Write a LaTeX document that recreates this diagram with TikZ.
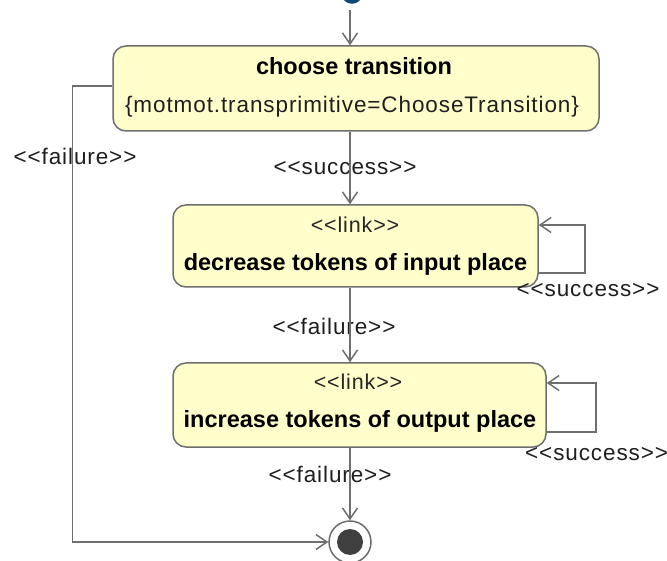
\documentclass[tikz,border=0pt]{standalone}
\usepackage{fontspec}
\setmainfont{Liberation Sans}
\newfontfamily\lblfont{Liberation Sans}[LetterSpace=4]
\usetikzlibrary{arrows.meta}
\definecolor{boxfill}{HTML}{FFFFCC}
\definecolor{edgegray}{HTML}{6E6E6E}
\definecolor{dotgray}{HTML}{404040}
\definecolor{titleblue}{HTML}{0D4A78}
\tikzset{
  actbox/.style={draw=edgegray, line width=1.5pt, fill=boxfill, rounded corners=13pt, inner sep=0pt},
  conn/.style={draw=edgegray, line width=1.5pt, -{Straight Barb[length=11pt,width=15pt,line width=1.5pt]}},
  lbl/.style={font=\lblfont\fontsize{22.5}{26}\selectfont, text=black!88, inner sep=0pt, anchor=base},
  title/.style={font=\bfseries\fontsize{23.5}{27}\selectfont, text=black, inner sep=0pt, anchor=base},
  stereo/.style={font=\lblfont\fontsize{21.5}{25}\selectfont, text=black!85, inner sep=0pt, anchor=base}
}
\begin{document}
\begin{tikzpicture}[x=1pt,y=-1pt]
\useasboundingbox (0,0) rectangle (667,561);

% fragment of the heading above the diagram
\begin{scope}
  \clip (0,0) rectangle (667,561);
  \draw[titleblue, line width=3.5pt] (352,-6) ellipse [x radius=8.5pt, y radius=8pt];
\end{scope}

\coordinate (ax) at (350,0);
\coordinate (entry) at (350,10);

% activities
\node[actbox, minimum width=486pt, minimum height=85pt] (b1) at (356,88.5) {};
\node[title] (t1) at (354,75) {choose transition};
\node[lbl] (c1) at (352,113) {\{motmot.transprimitive=ChooseTransition\}};

\node[actbox, minimum width=365pt, minimum height=82pt] (b2) at (355.5,246) {};
\node[stereo] (s2) at (355,233) {<{}<link>{}>};
\node[title] (t2) at (355.5,271) {decrease tokens of input place};

\node[actbox, minimum width=373pt, minimum height=84pt] (b3) at (359.5,405) {};
\node[stereo] (s3) at (358,390) {<{}<link>{}>};
\node[title] (t3) at (360,427) {increase tokens of output place};

% final state
\node[circle, draw=edgegray, line width=1.5pt, fill=white, minimum size=42pt, inner sep=0pt] (fin) at (350,542) {};
\node[circle, fill=dotgray, minimum size=26pt, inner sep=0pt] (findot) at (350,542) {};

% transition labels
\node[lbl] (l1) at (345,175) {<{}<success>{}>};
\node[lbl] (l2) at (334,335) {<{}<failure>{}>};
\node[lbl] (l3) at (330,482) {<{}<failure>{}>};
\node[lbl] (l4) at (75,165) {<{}<failure>{}>};
\node[lbl] (l5) at (588,297) {<{}<success>{}>};
\node[lbl, anchor=base west] (l6) at (525,460) {<{}<success>{}>};

% transitions
\draw[conn] (entry) -- (b1.north -| ax);
\draw[conn] (b1.south -| ax) -- (b2.north -| ax);
\draw[conn] (b2.south -| ax) -- (b3.north -| ax);
\draw[conn] (b3.south -| ax) -- (fin.north);
\draw[conn] ([yshift=2.5pt]b1.west) -- ++(-40,0) |- (fin.west);
\draw[conn] ([yshift=-27pt]b2.east) -- ++(46,0) |- ([yshift=21pt]b2.east);
\draw[conn] ([yshift=-27pt]b3.east) -- ++(49,0) |- ([yshift=22pt]b3.east);
\end{tikzpicture}
\end{document}
